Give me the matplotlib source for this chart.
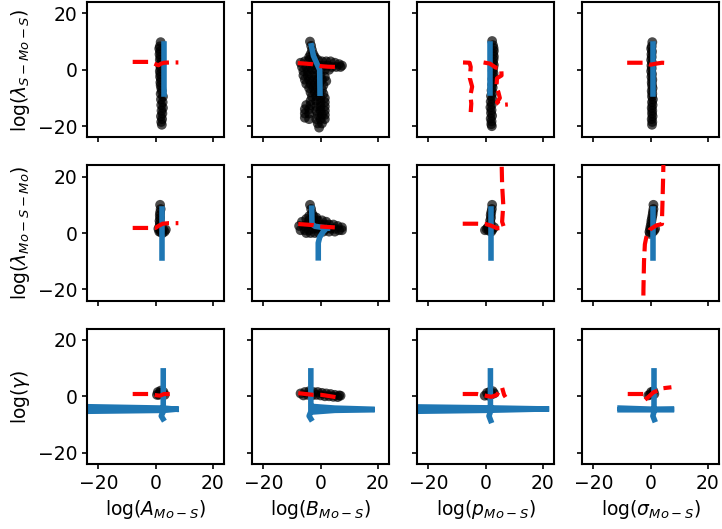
import matplotlib.pyplot as plt
import numpy as np

nan = np.nan

x_labels = [r"$\log(A_{Mo-S})$", r"$\log(B_{Mo-S})$",
            r"$\log(p_{Mo-S})$", r"$\log(\sigma_{Mo-S})$"]
y_labels = [r"$\log(\lambda_{S-Mo-S})$", r"$\log(\lambda_{Mo-S-Mo})$", r"$\log(\gamma)$"]
ticks = [-20, 0, 20]

# --- row 1: lambda_S-Mo-S -------------------------------------------------
row1_cloud_x = [
    [1.8, 1.5, 1.3, 1.6, 1.4, 1.7, 1.5, 1.9, 1.6, 1.8, 1.5, 1.7, 1.6, 1.9, 1.7,
     1.8, 2.0, 2.2, 1.8, 2.6, 1.9, 2.5, 2.0, 2.6, 2.1, 2.4, 1.9, 2.3, 2.0, 2.2],
    [-3.7, -3.3, -3.0, -2.5, -3.5, -2.0, -4.0,
     -7.0, -5.5, -4.0, -2.5, -1.0, 0.5, 2.0, 3.5, 5.0, 6.5, 7.5,
     -6.5, -5.0, -3.5, -2.0, -0.5, 1.0, 2.5, 4.0, 5.5, 7.0,
     -6.0, -4.5, -3.0, -1.5, 0.0, 1.5, 3.0,
     -6.0, -4.5, -3.0, -1.5, 0.0, 1.5,
     -5.5, -4.0, -2.5, -1.0, 0.5, 2.0,
     -5.0, -3.5, -2.0, -0.5, 1.0,
     -4.0, -2.5, -1.0, 0.5,
     -3.5, -2.0, -0.5, 1.0,
     -3.0, -1.5, 0.0, 1.5,
     -3.5, -1.5, 0.0, 1.5,
     -5.0, -3.5, -1.5, 0.0, 1.5,
     -5.5, -4.0, -1.5, 0.0, 1.5,
     -5.5, -4.0, -1.0, 0.5, 1.5,
     -5.5, -4.0, -1.5, 0.0, 1.5,
     -1.0, 0.5, -0.5],
    [2.3, 2.6, 2.8, 2.9, 2.7, 2.9, 2.8, 2.6, 2.9, 2.7, 2.5, 2.8, 2.6, 2.4, 2.7,
     2.3, 2.5, 2.1, 2.4, 1.9, 2.3, 1.8, 2.2, 1.7, 2.1, 1.9, 2.3, 1.8, 2.1, 2.0, 2.2],
    [0.6, 0.4, 0.2, 0.5, 0.3, 0.4, 0.2, 0.5, 0.3, 0.4, 0.2, 0.5, 0.3, 0.6, 0.4,
     0.5, 0.7, 0.4, 0.6, 0.5, 0.8, 0.5, 0.7, 0.4, 0.6, 0.5, 0.7, 0.4, 0.6, 0.5],
]
row1_cloud_y = [
    [9.8, 8.3, 7.5, 6.5, 5.5, 4.5, 3.5, 2.5, 1.5, 0.5, -0.5, -1.5, -2.5, -3.5, -4.5,
     -5.5, -6.5, -7.5, -8.5, -9.5, -10.5, -11.5, -12.5, -13.5, -14.5, -15.5, -16.5,
     -17.5, -18.5, -19.5],
    [10.0, 8.5, 7.0, 5.5, 5.5, 4.5, 4.5,
     2.5, 3.0, 3.5, 3.5, 3.5, 3.0, 3.0, 3.0, 2.5, 2.0, 1.5,
     1.0, 1.0, 1.0, 1.5, 1.5, 1.5, 1.5, 1.0, 1.0, 1.0,
     -0.5, -0.5, 0.0, 0.0, 0.0, 0.0, 0.0,
     -2.0, -2.0, -2.0, -2.0, -2.0, -2.5,
     -3.5, -3.5, -3.5, -3.5, -3.5, -4.0,
     -5.0, -5.0, -5.0, -5.0, -5.5,
     -6.5, -6.5, -6.5, -7.0,
     -8.0, -8.0, -8.0, -8.5,
     -9.5, -9.5, -10.0, -10.0,
     -11.0, -11.0, -11.5, -11.5,
     -12.5, -12.5, -13.0, -13.0, -13.0,
     -14.0, -14.0, -14.5, -14.5, -14.5,
     -15.5, -15.5, -16.0, -16.0, -16.0,
     -17.0, -17.5, -17.5, -17.5, -17.5,
     -19.0, -19.0, -20.5],
    [10.2, 8.7, 7.7, 6.7, 5.7, 4.7, 3.7, 2.7, 1.7, 0.7, -0.3, -1.3, -2.3, -3.3, -4.3,
     -5.3, -6.3, -7.3, -8.3, -9.3, -10.3, -11.3, -12.3, -13.3, -14.3, -15.3, -16.3,
     -17.3, -18.3, -19.3, -20.0],
    [9.8, 8.3, 7.5, 6.5, 5.5, 4.5, 3.5, 2.5, 1.5, 0.5, -0.5, -1.5, -2.5, -3.5, -4.5,
     -5.5, -6.5, -7.5, -8.5, -9.5, -10.5, -11.5, -12.5, -13.5, -14.5, -15.5, -16.5,
     -17.5, -18.5, -19.5],
]
row1_blue_x = [[3.0, 3.0], [-3.2, -2.5, -1.2, -0.3, -0.2], [1.4, 1.4], [1.0, 1.0]]
row1_blue_y = [[9.0, -8.6], [8.5, 5.0, 2.0, 0.0, -8.3], [9.0, -8.3], [9.0, -8.6]]
row1_red_x = [
    [-8.0, -2.0, 0.0, 1.0, 2.0, 3.0, 5.0, 8.0],
    [-8.0, -3.0, 0.0, 2.5, 5.5],
    [-7.9, -5.6, -5.2, -5.5, -4.7, -5.3, -5.0, -5.2, nan,
     -0.7, 1.5, 3.5, 5.5, 5.6, 4.0, 3.8, 4.5, 5.0, 4.0, 5.0, 7.8],
    [-8.2, -2.0, 0.0, 2.0, 4.0, 6.0],
]
row1_red_y = [
    [2.8, 2.8, 2.0, 1.6, 2.2, 2.5, 2.6, 2.6],
    [2.4, 2.0, 1.3, 1.1, 1.0],
    [2.6, 2.5, 1.0, -3.0, -6.0, -9.0, -12.0, -15.0, nan,
     2.6, 2.2, 0.8, 0.5, -2.0, -3.0, -6.0, -8.0, -10.0, -11.5, -12.5, -12.3],
    [2.5, 2.5, 1.8, 2.2, 2.5, 2.4],
]

# --- row 2: lambda_Mo-S-Mo ------------------------------------------------
row2_cloud_x = [
    [1.6, 1.8, 1.6, 1.5, 1.6, 1.4, 1.5, 1.4, 1.6, 1.8, 2.5, 3.2, 3.6, 2.6, 1.3, 1.0, 2.2],
    [-3.7, -3.3, -3.0, -2.5, -4.0, -1.5, -5.0, -6.5, -4.0, -2.5, -1.0, 0.5, 2.0,
     -7.5, -6.0, -4.5, -3.0, -1.5, 0.0, 1.5, 3.0, 4.5, 6.0, 7.5,
     -7.0, -5.5, -4.0, -2.5, -1.0, 0.5, 2.0, 3.5, 5.0, 6.5, 7.5,
     -5.0, -3.5, -2.0, -0.5, 1.0, 3.0, 5.0],
    [2.3, 2.2, 2.0, 1.8, 1.9, 1.6, 1.8, 1.4, 1.0, 0.4, -0.2, 1.2, 2.4, 3.0, 2.0, 0.8],
    [1.0, 1.0, 0.8, 0.7, 0.5, 0.3, 0.2, 0.0, -0.2, -0.4, -0.2, 0.6, 1.2, 1.6],
]
row2_cloud_y = [
    [10.0, 8.5, 7.3, 6.3, 5.3, 4.3, 3.3, 2.3, 1.3, 0.3, 0.0, 0.5, 1.2, 1.5, 0.5, 1.5, 0.8],
    [10.0, 8.5, 7.0, 6.0, 6.0, 5.5, 5.0, 4.0, 4.5, 4.5, 4.5, 4.5, 4.0,
     2.5, 2.5, 3.0, 3.0, 3.0, 3.0, 3.0, 3.0, 3.0, 2.5, 2.0,
     1.0, 1.0, 1.0, 1.5, 1.5, 1.5, 1.5, 1.5, 1.5, 1.0, 1.0,
     0.0, 0.0, 0.0, 0.0, 0.5, 0.5, 0.5],
    [10.0, 8.5, 7.4, 6.4, 5.4, 4.4, 3.4, 2.6, 1.8, 1.4, 1.0, 0.8, 1.2, 2.0, 0.5, 2.0],
    [10.0, 8.5, 7.4, 6.4, 5.4, 4.4, 3.4, 2.4, 1.4, 0.4, -0.3, 0.2, 0.8, 1.5],
]
row2_blue_x = [
    [2.2, 2.2],
    [-3.1, -3.0, -2.0, 0.5, 2.5, nan, 2.0, 0.8, -0.3, -0.8, -0.8],
    [1.9, 1.9],
    [0.8, 0.8],
]
row2_blue_y = [
    [8.6, -8.8],
    [8.8, 3.2, 2.4, 2.0, 1.8, nan, 1.6, 0.3, -1.5, -3.5, -8.8],
    [8.5, -8.8],
    [8.5, -8.8],
]
row2_red_x = [
    [-8.0, 0.0, 1.0, 2.5, 4.6, 8.0],
    [-7.8, -2.6, -0.2, 5.0],
    [-8.0, -3.0, 0.0, 2.0, 4.0, 6.5, 5.8, 6.2, 5.8, 5.6],
    [-2.6, -2.5, -2.3, -2.0, -1.5, -0.3, 2.0, 4.0, 4.0, 4.2, 4.4, 4.6],
]
row2_red_y = [
    [1.8, 1.8, 2.5, 3.3, 3.5, 3.5],
    [3.2, 2.8, 2.3, 2.0],
    [3.3, 3.3, 3.2, 2.6, 1.7, 1.8, 4.0, 10.0, 17.0, 26.0],
    [-30.0, -20.0, -10.0, -4.0, -1.5, 1.2, 2.7, 3.2, 5.0, 12.0, 20.0, 30.0],
]

# --- row 3: gamma -----------------------------------------------------------
row3_cloud_x = [
    [0.8, 1.8, 2.8, 1.2, 2.2, 3.2, 0.5, 1.5],
    [-7.0, -5.5, -4.0, -2.5, -1.0, 0.5, 2.0, 3.5, 5.0, 6.5, 7.0,
     -6.0, -4.5, -3.0, -1.5, 0.0, 1.5, 3.0, 4.5, 6.0],
    [-0.3, 0.5, 1.5, 2.5, 3.0, 1.0, 2.0],
    [-0.8, 0.2, 1.0, -0.2, 1.3],
]
row3_cloud_y = [
    [1.5, 2.0, 1.5, 0.5, 0.8, 0.5, 0.5, 1.2],
    [1.0, 1.5, 1.8, 1.5, 1.5, 1.2, 1.0, 0.8, 0.5, 0.3, 0.2,
     0.3, 0.5, 0.3, 0.5, 0.3, 0.0, 0.0, -0.2, -0.3],
    [0.2, 1.2, 1.6, 1.8, 1.0, 0.2, 0.6],
    [0.3, 1.5, 1.8, 0.6, 0.8],
]
row3_blue_x = [
    [2.7, 2.7, 2.0, 2.6, nan, -30.0, 3.0, 7.2, nan, -30.0, 3.0, 7.2],
    [-3.4, -3.4, -4.0, -3.4, nan, -3.0, 5.0, 18.0, nan, -3.0, 5.0, 18.0],
    [1.7, 1.7, 1.2, 1.8, nan, -30.0, 0.0, 21.3, nan, -30.0, 0.0, 21.3],
    [1.2, 1.2, 0.8, 1.3, nan, -10.7, 1.0, 7.3, nan, -10.7, 7.3],
]
row3_blue_y = [
    [9.0, -5.5, -7.0, -8.0, nan, -3.6, -4.2, -4.6, nan, -5.4, -5.0, -4.6],
    [9.0, -5.5, -7.0, -8.0, nan, -3.6, -4.2, -4.6, nan, -5.6, -5.0, -4.8],
    [9.0, -5.5, -7.0, -8.6, nan, -3.7, -4.1, -4.5, nan, -5.4, -5.0, -4.5],
    [9.0, -5.5, -7.0, -8.3, nan, -4.2, -4.6, -4.5, nan, -4.8, -4.8],
]
row3_red_x = [
    [-8.0, -2.0, 0.0, 1.5, 3.0, 5.0],
    [-7.8, -2.6, 0.3, 5.3],
    [-8.0, -3.0, -0.5, 2.0, 4.0, 5.2, 5.8, 6.5, 7.0],
    [-8.0, -2.5, -2.0, -0.5, 1.0, 3.0, 4.0, 7.3],
]
row3_red_y = [
    [0.8, 0.8, 0.4, 0.2, 0.8, 0.8],
    [1.1, 0.5, 0.5, -0.3],
    [0.8, 0.8, 0.3, -0.2, 0.5, 2.8, 3.0, 0.5, -0.3],
    [0.8, 0.8, -1.3, 0.0, 1.4, 2.2, 2.8, 3.2],
]

cloud_x = [row1_cloud_x, row2_cloud_x, row3_cloud_x]
cloud_y = [row1_cloud_y, row2_cloud_y, row3_cloud_y]
blue_x = [row1_blue_x, row2_blue_x, row3_blue_x]
blue_y = [row1_blue_y, row2_blue_y, row3_blue_y]
red_x = [row1_red_x, row2_red_x, row3_red_x]
red_y = [row1_red_y, row2_red_y, row3_red_y]

plt.rcParams["font.size"] = 13.5

fig, axes = plt.subplots(3, 4, figsize=(7.22, 5.29), dpi=100, sharex=True, sharey=True)
fig.subplots_adjust(left=0.1205, right=0.996, bottom=0.123, top=0.996,
                    wspace=0.204, hspace=0.206)

for i in range(3):
    for j in range(4):
        ax = axes[i, j]
        ax.scatter(cloud_x[i][j], cloud_y[i][j], s=50, color="k", alpha=0.7,
                   edgecolors="none", zorder=1)
        ax.plot(blue_x[i][j], blue_y[i][j], color="C0", lw=4, zorder=2)
        ax.plot(red_x[i][j], red_y[i][j], "r--", lw=3, zorder=3)
        ax.set_xlim(-24, 24)
        ax.set_ylim(-24, 24)
        ax.set_xticks(ticks)
        ax.set_yticks(ticks)
        for spine in ax.spines.values():
            spine.set_linewidth(1.5)
        ax.tick_params(width=1.2)
        if i == 2:
            ax.set_xlabel(x_labels[j])
        if j == 0:
            ax.set_ylabel(y_labels[i])

fig.savefig("out.png", dpi=100)
